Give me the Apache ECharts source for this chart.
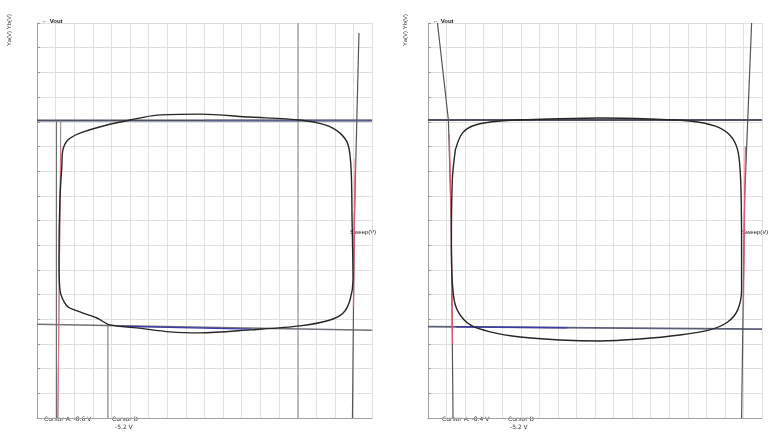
<!DOCTYPE html>
<html>
<head>
<meta charset="utf-8">
<script src="https://cdn.jsdelivr.net/npm/echarts@6/dist/echarts.min.js"></script>
<style>html,body{margin:0;padding:0;background:#fff}#c{width:769px;height:432px}</style>
</head>
<body>
<div id="c"></div>
<script>
// ---- data (axis units) ----
const xRange = [-9, 9];
const yRange = [-8, 8];

const leftLoop = [[-7.66,2.25],[-7.61,2.85],[-7.34,3.26],[-6.69,3.54],[-5.24,3.87],[-4.01,4.07],[-2.55,4.27],[-0.24,4.31],[2.45,4.19],[5.13,4.07],[6.48,3.87],[7.28,3.54],[7.72,3.06],[7.88,2.04],[7.93,0.0],[7.98,-2.41],[7.82,-3.22],[7.45,-3.75],[6.75,-4.03],[5.13,-4.27],[2.45,-4.43],[-0.24,-4.55],[-1.85,-4.51],[-3.63,-4.35],[-5.08,-4.23],[-5.78,-3.95],[-6.69,-3.70],[-7.39,-3.46],[-7.77,-2.81],[-7.82,-1.60],[-7.77,0.83],[-7.66,2.25]];
const rightLoop = [[-7.53,2.85],[-7.15,3.54],[-6.45,3.87],[-5.11,4.03],[-2.42,4.11],[0.27,4.15],[2.96,4.11],[5.11,4.03],[6.45,3.83],[7.26,3.46],[7.69,2.85],[7.85,1.64],[7.90,-1.19],[7.90,-2.81],[7.69,-3.62],[7.15,-4.11],[6.18,-4.43],[4.57,-4.64],[2.42,-4.80],[0.27,-4.88],[-1.88,-4.84],[-4.03,-4.72],[-5.65,-4.51],[-6.72,-4.23],[-7.37,-3.70],[-7.63,-3.02],[-7.74,-1.19],[-7.69,1.64],[-7.53,2.85]];

const leftUpperRef = [[-9,4.05],[9,4.05]];
const leftLowerRef = [[-9,-4.2],[9,-4.45]];
const leftBlueUpper = [[0,4.05],[9,4.05]];
const leftBlueLower = [[-4.5,-4.28],[2.5,-4.4]];
const leftSteepL = [[-7.72,4.05],[-7.88,-8]];
const leftSteepR = [[8.3,7.6],[8.05,0],[7.95,-8]];
const leftRedL = [[-7.72,3.0],[-7.88,-8]];
const leftRedR = [[8.1,2.5],[8.0,-3.5]];
const leftCursorA = [[-7.95,4.05],[-7.95,-8]];
const leftCursorB = [[-5.19,-4.25],[-5.19,-8]];
const leftMarker = [[5.03,8],[5.03,-8]];

const rightUpperRef = [[-9,4.07],[9,4.07]];
const rightLowerRef = [[-9,-4.3],[9,-4.4]];
const rightBlueLower = [[-7.5,-4.3],[-1.5,-4.34]];
const rightSteepL = [[-8.49,8],[-7.9,4.07],[-7.75,0],[-7.65,-8]];
const rightSteepR = [[8.44,8],[8.06,0.83],[7.9,-8]];
const rightRedL = [[-7.85,3.5],[-7.75,0],[-7.68,-5]];
const rightRedR = [[8.1,3],[8.0,-3.5]];

// ---- chart ----
const chart = echarts.init(document.getElementById('c'));
function axisX(gi){return {type:'value',gridIndex:gi,min:xRange[0],max:xRange[1],interval:1,
  axisLine:{onZero:false,lineStyle:{color:'#a0a0a0',width:1}},axisTick:{show:false},axisLabel:{show:false},
  splitLine:{show:true,lineStyle:{color:'#e0e0e0',width:1}}};}
function axisY(gi){return {type:'value',gridIndex:gi,min:yRange[0],max:yRange[1],interval:1,
  axisLine:{show:true,onZero:false,lineStyle:{color:'#a0a0a0',width:1}},axisTick:{show:true,length:3,inside:true,lineStyle:{color:'#999'}},axisLabel:{show:false},
  splitLine:{show:true,lineStyle:{color:'#e0e0e0',width:1}}};}
function ln(gi,data,color,width,smooth,z){return {type:'line',xAxisIndex:gi,yAxisIndex:gi,data:data,showSymbol:false,symbol:'none',
  smooth:smooth||false,lineStyle:{color:color,width:width},z:z||2,silent:true,animation:false};}

const txt = (x,y,t,opt)=>Object.assign({type:'text',left:x,top:y,style:{text:t,fontSize:6,fill:'#333',fontFamily:'DejaVu Sans'}},opt||{});

chart.setOption({
  animation:false,
  backgroundColor:'#fff',
  grid:[{left:37,right:397,top:23,bottom:14},{left:428,right:7,top:23,bottom:14}],
  xAxis:[axisX(0),axisX(1)],
  yAxis:[axisY(0),axisY(1)],
  series:[
    ln(0,leftUpperRef,'#4b5064',2,false,3),
    ln(0,leftLowerRef,'#707078',1.5,false,3),
    ln(0,leftBlueUpper,'#5a5f90',1.5,false,4),
    ln(0,leftBlueLower,'#3c3ca8',1.5,false,4),
    ln(0,leftMarker,'#8a8a8a',1,false,2),
    ln(0,leftCursorA,'#6a6a6a',1,false,3),
    ln(0,leftCursorB,'#6a6a6a',1,false,3),
    ln(0,leftSteepL,'#808080',1,false,3),
    ln(0,leftSteepR,'#555',1.2,false,3),
    ln(0,leftRedL,'#e07a8a',1,false,4),
    ln(0,leftRedR,'#e05a6a',1.2,false,4),
    ln(0,leftLoop,'#262626',1.4,0.3,5),
    ln(1,rightUpperRef,'#4b5064',1.8,false,3),
    ln(1,rightLowerRef,'#5a5e78',1.8,false,3),
    ln(1,rightBlueLower,'#3c3ca8',1.5,false,4),
    ln(1,rightSteepL,'#555',1.2,false,3),
    ln(1,rightSteepR,'#555',1.2,false,3),
    ln(1,rightRedL,'#e05a6a',1.2,false,4),
    ln(1,rightRedR,'#e05a6a',1.2,false,4),
    ln(1,rightLoop,'#262626',1.4,0.3,5)
  ],
  graphic:[
    txt(6,14,'Ya(V)',{rotation:Math.PI/2,style:{text:'Ya(V) Yb(V)',fontSize:6,fill:'#333'}}),
    txt(42,18,'\u2190 Vout',{style:{text:'\u2190 Vout',fontSize:6,fill:'#222',fontWeight:'bold'}}),
    txt(44,416,'Cursor A: -8.6 V',{}),
    txt(112,416,'Cursor B',{}),
    txt(115,424,'-5.2 V',{}),
    txt(350,229,'Sweep(V)',{style:{text:'Sweep(V)',fontSize:6,fill:'#222'}}),
    txt(402,14,'Ya(V)',{rotation:Math.PI/2,style:{text:'Ya(V) Yb(V)',fontSize:6,fill:'#333'}}),
    txt(433,18,'\u2190 Vout',{style:{text:'\u2190 Vout',fontSize:6,fill:'#222',fontWeight:'bold'}}),
    txt(442,416,'Cursor A: -8.4 V',{}),
    txt(508,416,'Cursor B',{}),
    txt(510,424,'-5.2 V',{}),
    txt(742,229,'Sweep(V)',{style:{text:'Sweep(V)',fontSize:6,fill:'#222'}})
  ]
});
</script>
</body>
</html>
